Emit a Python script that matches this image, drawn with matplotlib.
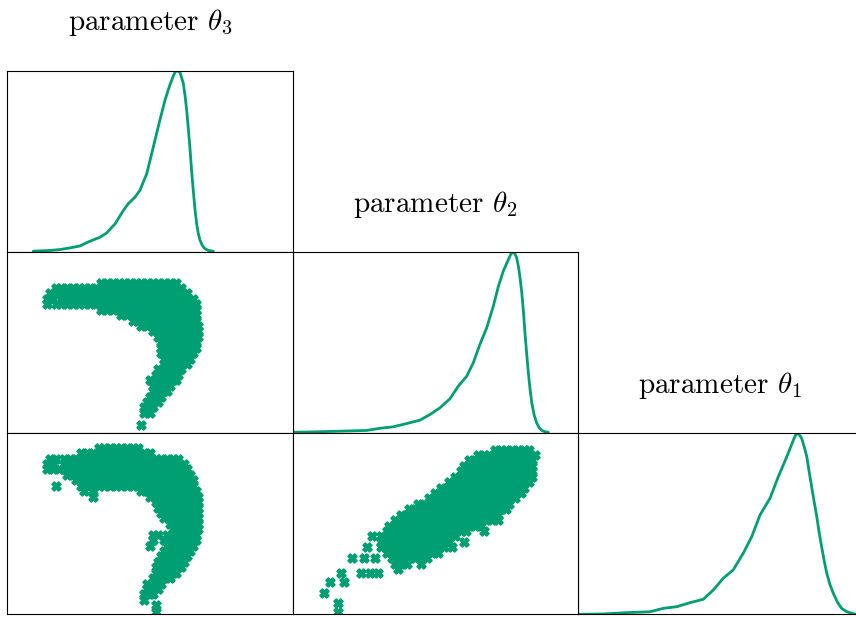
import matplotlib
matplotlib.use("Agg")
import matplotlib.pyplot as plt

plt.rcParams["font.family"] = ["cmr10", "DejaVu Serif"]
plt.rcParams["mathtext.fontset"] = "cm"
plt.rcParams["axes.formatter.use_mathtext"] = True

GREEN = "#009E73"

titles = [r"parameter $\theta_3$", r"parameter $\theta_2$", r"parameter $\theta_1$"]

# ---- diagonal KDE curves (x in % of axis range, y in % of peak density) ----
kde3_x = [9.1, 15.0, 18.5, 22.0, 25.5, 28.4, 32.5, 34.8, 37.8, 40.7, 42.4, 44.8, 46.5, 48.9,
          51.2, 53.5, 55.3, 57.0, 58.5, 59.0, 59.4, 59.9, 60.6, 61.7, 62.3, 62.9, 63.5, 64.1,
          64.6, 65.2, 65.8, 66.4, 67.0, 67.6, 68.4, 69.3, 70.5, 72.2]
kde3_y = [0.3, 0.7, 1.2, 2.1, 3.2, 5.4, 8.0, 10.3, 15.4, 22.8, 26.5, 30.2, 33.9, 43.1,
          57.9, 72.7, 83.8, 92.1, 98.2, 99.5, 100.0, 99.8, 98.9, 93.0, 86.5, 78.2, 67.5, 56.1,
          45.0, 33.9, 23.5, 15.4, 9.8, 6.2, 3.4, 1.6, 0.7, 0.3]

kde2_x = [0.3, 7.3, 16.7, 26.0, 30.7, 35.3, 40.0, 44.7, 48.2, 51.7, 55.2, 58.1, 61.1, 63.4,
          65.7, 68.1, 70.4, 72.2, 73.9, 75.7, 76.5, 77.3, 77.8, 78.6, 79.2, 79.8, 80.4, 81.0,
          81.5, 82.1, 82.7, 83.3, 83.9, 84.7, 85.6, 86.5, 87.4, 88.5, 89.7]
kde2_y = [0.3, 0.5, 0.9, 1.3, 2.5, 3.3, 5.1, 7.0, 10.1, 13.8, 18.8, 25.7, 31.3, 38.7,
          48.8, 58.0, 69.9, 81.0, 89.3, 95.7, 98.5, 100.0, 99.6, 96.7, 92.0, 85.5, 77.3, 66.5,
          55.2, 44.0, 33.1, 24.0, 16.6, 10.0, 5.5, 2.8, 1.3, 0.6, 0.3]

kde1_x = [0.3, 9.0, 17.2, 25.4, 30.1, 34.8, 39.4, 44.1, 47.6, 51.1, 54.6, 58.1, 61.1, 64.0,
          67.5, 70.4, 73.4, 75.7, 76.4, 77.1, 77.8, 78.6, 79.5, 80.4, 81.2, 82.1, 83.0, 83.9,
          84.7, 85.6, 86.5, 87.4, 88.5, 89.7, 91.1, 92.6, 94.3, 96.1, 97.6]
kde1_y = [0.0, 0.2, 0.9, 1.4, 3.3, 4.2, 6.4, 8.3, 13.4, 19.9, 24.5, 33.7, 42.9, 54.9,
          64.1, 76.0, 87.1, 96.3, 98.8, 100.0, 99.2, 97.2, 92.5, 87.1, 79.0, 70.5, 62.0, 53.9,
          45.5, 37.3, 29.5, 22.7, 16.5, 11.6, 6.8, 3.3, 1.5, 0.6, 0.0]

# ---- scatter samples, stored row by row: y value and the x values on that row ----
# panel theta3 (x) vs theta2 (y)
s32_y = [83, 80, 77, 74, 71, 68, 65, 62, 59, 56, 53, 50, 47, 44, 41, 38, 35, 32, 29, 26, 23, 20, 17, 14, 11, 4.5]
s32_x = [
    [33, 35, 37, 39, 41, 43, 45, 47, 49, 51, 53, 55, 57, 59],
    [17, 19, 21, 23, 25, 27, 29, 31, 33, 35, 37, 39, 41, 43, 45, 47, 49, 51, 53, 55, 57, 59, 61],
    [15, 17, 19, 21, 23, 25, 27, 29, 31, 33, 35, 37, 39, 41, 43, 45, 47, 49, 51, 53, 55, 57, 59, 61, 63],
    [14, 16, 19, 21, 23, 25, 27, 29, 31, 33, 35, 37, 39, 41, 43, 45, 47, 49, 51, 53, 55, 57, 59, 61, 63, 65],
    [14, 17, 19, 21, 23, 25, 27, 29, 31, 33, 35, 37, 39, 41, 43, 45, 47, 49, 51, 53, 55, 57, 59, 61, 63, 65, 66],
    [33, 35, 37, 39, 41, 43, 45, 47, 49, 51, 53, 55, 57, 59, 61, 63, 65, 66],
    [40, 42, 44, 46, 48, 50, 52, 54, 56, 58, 60, 62, 64, 66],
    [44, 46, 48, 50, 52, 54, 56, 58, 60, 62, 64, 66],
    [47, 49, 51, 53, 55, 57, 59, 61, 63, 65, 67],
    [51, 53, 55, 57, 59, 61, 63, 65, 67],
    [53, 55, 57, 59, 61, 63, 65, 67],
    [54, 56, 58, 60, 62, 64, 66],
    [54, 56, 58, 60, 62, 64, 66],
    [54, 56, 58, 60, 62, 64, 65],
    [55, 57, 59, 61, 63, 64],
    [55, 57, 59, 61, 63],
    [53, 55, 57, 59, 61],
    [52, 54, 56, 58, 60],
    [50, 52, 54, 56, 58, 59],
    [51, 53, 55, 57],
    [51, 53, 55, 56],
    [50, 52, 54],
    [49, 51, 53],
    [48, 50, 51],
    [48, 50],
    [47],
]

# panel theta3 (x) vs theta1 (y)
s31_y = [92, 89, 86, 83, 80, 77, 74, 71, 68, 65, 62, 59, 56, 53, 50, 47, 44, 41, 38, 35, 32, 29,
         26, 23, 20, 17, 14, 11, 8, 5, 1]
s31_x = [
    [32, 34, 36, 38, 40, 42, 44, 46],
    [26, 28, 30, 32, 34, 36, 38, 40, 42, 44, 46, 48, 50],
    [15, 17, 20, 22, 24, 26, 28, 30, 32, 34, 36, 38, 40, 42, 44, 46, 48, 50, 52, 54, 56, 58, 60],
    [14, 16, 20, 22, 24, 26, 28, 30, 32, 34, 36, 38, 40, 42, 44, 46, 48, 50, 52, 54, 56, 58, 60, 62],
    [14, 16, 18, 20, 22, 24, 26, 28, 30, 32, 34, 36, 38, 40, 42, 44, 46, 48, 50, 52, 54, 56, 58, 60, 62, 63],
    [21, 23, 25, 27, 29, 31, 33, 35, 37, 39, 41, 43, 45, 47, 49, 51, 53, 55, 57, 59, 61, 63, 64],
    [24, 26, 28, 30, 32, 34, 36, 38, 40, 42, 44, 46, 48, 50, 52, 54, 56, 58, 60, 62, 64, 65],
    [17, 26, 28, 30, 32, 34, 36, 38, 40, 42, 44, 46, 48, 50, 52, 54, 56, 58, 60, 62, 64, 65],
    [27, 30, 47, 49, 51, 53, 55, 57, 59, 61, 63, 65, 66],
    [30, 50, 52, 54, 56, 58, 60, 62, 64, 66, 67],
    [52, 54, 56, 58, 60, 62, 64, 66, 67],
    [53, 55, 57, 59, 61, 63, 65, 67],
    [54, 56, 58, 60, 62, 64, 66, 67],
    [55, 57, 59, 61, 63, 65, 67],
    [57, 59, 61, 63, 65, 67],
    [58, 60, 62, 64, 66, 67],
    [51, 53, 56, 58, 60, 62, 64, 66],
    [51, 55, 57, 59, 61, 63, 65, 66],
    [50, 56, 58, 60, 62, 64, 65],
    [55, 57, 59, 61, 63, 64],
    [54, 56, 58, 60, 62, 63],
    [53, 55, 57, 59, 61, 62],
    [52, 54, 56, 58, 60, 61],
    [52, 54, 56, 58, 59],
    [51, 53, 55, 57],
    [49, 51, 53, 54],
    [49, 51, 53],
    [48, 50, 51],
    [48],
    [52],
    [52],
]

# panel theta2 (x) vs theta1 (y)
s21_y = [91, 88, 85, 82, 79, 76, 73, 70, 67, 64, 61, 58, 55, 52, 49, 46, 43, 40, 37, 34, 31, 28,
         25, 23, 18, 12, 6, 1]
s21_x = [
    [71, 73, 75, 77, 79, 81, 83],
    [65, 67, 69, 71, 73, 75, 77, 79, 81, 83, 85],
    [62, 64, 66, 68, 70, 72, 74, 76, 78, 80, 82, 84],
    [60, 62, 64, 66, 68, 70, 72, 74, 76, 78, 80, 82, 84],
    [59, 61, 63, 65, 67, 69, 71, 73, 75, 77, 79, 81, 83, 84],
    [57, 59, 61, 63, 65, 67, 69, 71, 73, 75, 77, 79, 81, 83, 84],
    [55, 57, 59, 61, 63, 65, 67, 69, 71, 73, 75, 77, 79, 81, 83],
    [52, 54, 56, 58, 60, 62, 64, 66, 68, 70, 72, 74, 76, 78, 80, 81],
    [50, 52, 54, 56, 58, 60, 62, 64, 66, 68, 70, 72, 74, 76, 78, 80],
    [48, 50, 52, 54, 56, 58, 60, 62, 64, 66, 68, 70, 72, 74, 76, 78],
    [44, 46, 48, 50, 52, 54, 56, 58, 60, 62, 64, 66, 68, 70, 72, 74, 76],
    [41, 43, 45, 47, 49, 51, 53, 55, 57, 59, 61, 63, 65, 67, 69, 71, 73, 75],
    [38, 40, 42, 44, 46, 48, 50, 52, 54, 56, 58, 60, 62, 64, 66, 68, 70, 72],
    [36, 38, 40, 42, 44, 46, 48, 50, 52, 54, 56, 58, 60, 62, 64, 66, 68, 70, 72],
    [34, 36, 38, 40, 42, 44, 46, 48, 50, 52, 54, 56, 58, 60, 62, 64, 66],
    [33, 35, 37, 39, 41, 43, 45, 47, 49, 51, 53, 55, 57, 59, 61, 67],
    [28, 31, 33, 35, 37, 39, 41, 43, 45, 47, 49, 51, 53, 55, 57],
    [31, 33, 35, 37, 39, 41, 43, 45, 47, 49, 51, 53, 55, 60],
    [26, 31, 33, 35, 37, 39, 41, 43, 45, 47, 49, 51, 53, 56],
    [33, 35, 37, 39, 41, 43, 45, 47, 49, 51],
    [21, 25, 29, 35, 37, 39, 41, 43, 45, 47],
    [36, 38, 40, 45],
    [37],
    [17, 24, 27, 30],
    [13, 18],
    [11],
    [16],
    [16],
]

# ---------------------------------------------------------------------------
W, H = 856, 617
fig = plt.figure(figsize=(W / 100, H / 100), dpi=100)

col_left = [7.3, 292.5, 577.5]
row_top = [70.7, 251.8, 433.3]
cw, ch = 285.2, 181.0


def make_ax(r, c):
    ax = fig.add_axes([col_left[c] / W, 1 - (row_top[r] + ch) / H, cw / W, ch / H])
    ax.set_xticks([])
    ax.set_yticks([])
    for sp in ax.spines.values():
        sp.set_linewidth(0.8)
        sp.set_color("black")
    ax.set_facecolor("white")
    return ax


kdes = [(kde3_x, kde3_y), (kde2_x, kde2_y), (kde1_x, kde1_y)]
for i in range(3):
    ax = make_ax(i, i)
    kx, ky = kdes[i]
    ax.plot(kx, ky, color=GREEN, lw=2.0, solid_capstyle="round", solid_joinstyle="round")
    ax.set_xlim(0, 100)
    ax.set_ylim(0, 100)
    ax.set_title(titles[i], fontsize=21, pad=29)


def scatter_rows(ax, ys, xs):
    px, py = [], []
    for yv, row in zip(ys, xs):
        for xv in row:
            px.append(xv)
            py.append(yv)
    ax.scatter(px, py, marker="X", s=38, color=GREEN, edgecolors=GREEN, linewidths=1.4)
    ax.set_xlim(0, 100)
    ax.set_ylim(0, 100)


scatter_rows(make_ax(1, 0), s32_y, s32_x)
scatter_rows(make_ax(2, 0), s31_y, s31_x)
scatter_rows(make_ax(2, 1), s21_y, s21_x)

fig.savefig("out.png", dpi=100)
